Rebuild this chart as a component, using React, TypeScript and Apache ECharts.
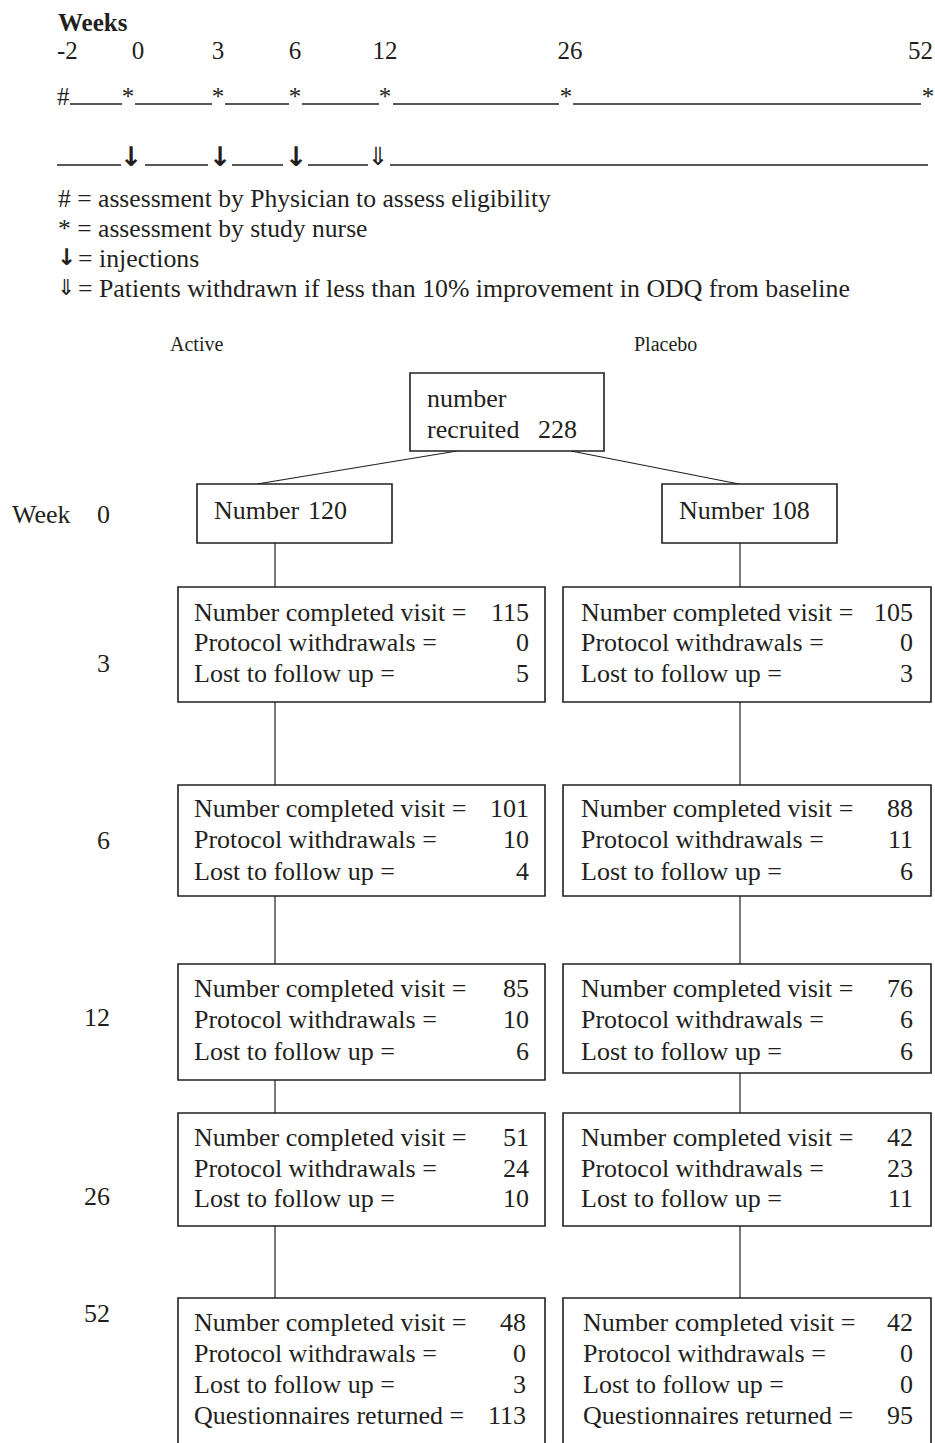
import React, { useEffect, useRef } from "react";
import * as echarts from "echarts";

// ---- data ----
const timelineWeeks = ["-2", "0", "3", "6", "12", "26", "52"];
const visitWeeks = ["0", "3", "6", "12", "26", "52"];
const rowLabels = [
  "Number completed visit =",
  "Protocol withdrawals =",
  "Lost to follow up =",
  "Questionnaires returned =",
];
const legendLines = [
  { sym: "#", text: "= assessment by Physician to assess eligibility" },
  { sym: "*", text: "= assessment by study nurse" },
  { sym: "\u2193", text: "= injections" },
  { sym: "\u21d3", text: "= Patients withdrawn if less than 10% improvement in ODQ from baseline" },
];
const recruited = 228;
const activeN = 120;
const placeboN = 108;
const activeCompleted = [115, 101, 85, 51, 48];
const activeProtocol = [0, 10, 10, 24, 0];
const activeLost = [5, 4, 6, 10, 3];
const activeQuestionnaires = 113;
const placeboCompleted = [105, 88, 76, 42, 42];
const placeboProtocol = [0, 11, 6, 23, 0];
const placeboLost = [3, 6, 6, 11, 0];
const placeboQuestionnaires = 95;

// ---- layout ----
const INK = "#231f20";
const FONT = "'Liberation Serif', 'Times New Roman', serif";
const BIG = 26;

function txt(x: number, y: number, s: string, opts: any = {}) {
  return {
    type: "text",
    x,
    y,
    silent: true,
    style: {
      text: s,
      fill: INK,
      font: `${opts.weight || "normal"} ${opts.size || BIG}px ${opts.family || FONT}`,
      textAlign: opts.align || "left",
      textVerticalAlign: "middle",
    },
  };
}
function ln(x1: number, y1: number, x2: number, y2: number, w = 1.2) {
  return {
    type: "line",
    silent: true,
    shape: { x1, y1, x2, y2 },
    style: { stroke: INK, lineWidth: w },
  };
}
function box(x: number, y: number, w: number, h: number) {
  return {
    type: "rect",
    silent: true,
    shape: { x, y, width: w, height: h },
    style: { fill: "#fff", stroke: INK, lineWidth: 1.6 },
  };
}

function buildElements() {
  const els: any[] = [];
  // Timeline header
  els.push(txt(58, 22, "Weeks", { weight: "bold", size: 25 }));
  const tickX = [57, 138, 218, 295, 385, 570, 933];
  timelineWeeks.forEach((w, i) => {
    const align = i === 0 ? "left" : i === timelineWeeks.length - 1 ? "right" : "center";
    els.push(txt(tickX[i], 50, w, { size: 25, align }));
  });
  // assessment row
  els.push(txt(57, 96, "#", { size: 25 }));
  [[70, 122], [135, 212], [225, 289], [302, 379], [393, 559], [573, 921]].forEach(([a, b]) =>
    els.push(ln(a, 104, b, 104, 1.3))
  );
  [128, 218, 295, 385, 566, 928].forEach((x) => els.push(txt(x, 96, "*", { size: 25, align: "center" })));
  // injection row
  [[57, 121], [145, 208], [232, 283], [308, 368], [390, 928]].forEach(([a, b]) =>
    els.push(ln(a, 165, b, 165, 1.3))
  );
  [131, 220, 296].forEach((x) =>
    els.push(txt(x, 156, "\u2193", { size: 27, align: "center", weight: "bold", family: "'DejaVu Sans'" }))
  );
  els.push(txt(378, 156, "\u21d3", { size: 25, align: "center", family: "'DejaVu Sans'" }));

  // legend
  const legY = [198, 228, 258, 288];
  legendLines.forEach((l, i) => {
    if (i < 2) {
      els.push(txt(58, legY[i], l.sym + " " + l.text, { size: 25.6 }));
    } else {
      els.push(
        txt(57, legY[i] - 1, l.sym, {
          size: i === 2 ? 23 : 22,
          weight: i === 2 ? "bold" : "normal",
          family: "'DejaVu Sans'",
        })
      );
      els.push(txt(78, legY[i], l.text, { size: 25.8 }));
    }
  });

  // group labels
  els.push(txt(170, 344, "Active", { size: 20 }));
  els.push(txt(634, 344, "Placebo", { size: 20 }));

  // recruited box and split
  els.push(ln(457, 451, 257, 484, 1.2));
  els.push(ln(571, 451, 739, 484, 1.2));
  els.push(box(410, 373, 194, 78));
  els.push(txt(427, 398, "number"));
  els.push(txt(427, 429, "recruited"));
  els.push(txt(538, 429, String(recruited)));

  // vertical connectors
  const colX = [275, 740];
  const stageTops = [587, 785, 964, 1113, 1298];
  const stageBottomsL = [702, 896, 1080, 1226, 1470];
  const stageBottomsR = [702, 896, 1073, 1226, 1470];
  colX.forEach((cx, c) => {
    els.push(ln(cx, 543, cx, stageTops[0], 1.2));
    for (let s = 0; s < 4; s++) {
      const b = c === 0 ? stageBottomsL[s] : stageBottomsR[s];
      els.push(ln(cx, b, cx, stageTops[s + 1], 1.2));
    }
  });

  // week-0 boxes
  els.push(box(197, 484, 195, 59));
  els.push(box(662, 484, 175, 59));
  els.push(txt(214, 510, "Number"));
  els.push(txt(308, 510, String(activeN)));
  els.push(txt(679, 510, "Number " + placeboN));

  // week labels
  els.push(txt(12, 514, "Week"));
  const weekY = [514, 663, 840, 1017, 1196, 1313];
  visitWeeks.forEach((w, i) => els.push(txt(110, weekY[i], w, { align: "right" })));

  // stage boxes
  const rowY = [
    [612, 642, 673],
    [808, 839, 871],
    [988, 1019, 1051],
    [1137, 1168, 1198],
    [1322, 1353, 1384, 1415],
  ];
  const groups = [
    { x: 178, w: 367, tx: 194, nx: 529, bottoms: stageBottomsL, c: activeCompleted, p: activeProtocol, l: activeLost, q: activeQuestionnaires },
    { x: 563, w: 368, tx: 581, nx: 913, bottoms: stageBottomsR, c: placeboCompleted, p: placeboProtocol, l: placeboLost, q: placeboQuestionnaires },
  ];
  groups.forEach((g) => {
    for (let s = 0; s < 5; s++) {
      els.push(box(g.x, stageTops[s], g.w, g.bottoms[s] - stageTops[s]));
      const vals = [g.c[s], g.p[s], g.l[s]];
      if (s === 4) vals.push(g.q);
      const tx = s === 4 && g.x > 500 ? g.tx + 2 : g.tx;
      const nx = s === 4 && g.x < 500 ? g.nx - 3 : g.nx;
      vals.forEach((v, r) => {
        els.push(txt(tx, rowY[s][r], rowLabels[r]));
        els.push(txt(nx, rowY[s][r], String(v), { align: "right" }));
      });
    }
  });
  return els;
}

export default function App() {
  const ref = useRef<HTMLDivElement>(null);
  useEffect(() => {
    if (!ref.current) return;
    const chart = echarts.init(ref.current, undefined, { renderer: "svg" });
    chart.setOption({
      animation: false,
      backgroundColor: "#ffffff",
      graphic: { elements: buildElements() },
    });
    return () => chart.dispose();
  }, []);
  return (
    <div
      ref={ref}
      style={{ position: "absolute", left: 0, top: 0, width: 935, height: 1443, background: "#fff" }}
    />
  );
}
